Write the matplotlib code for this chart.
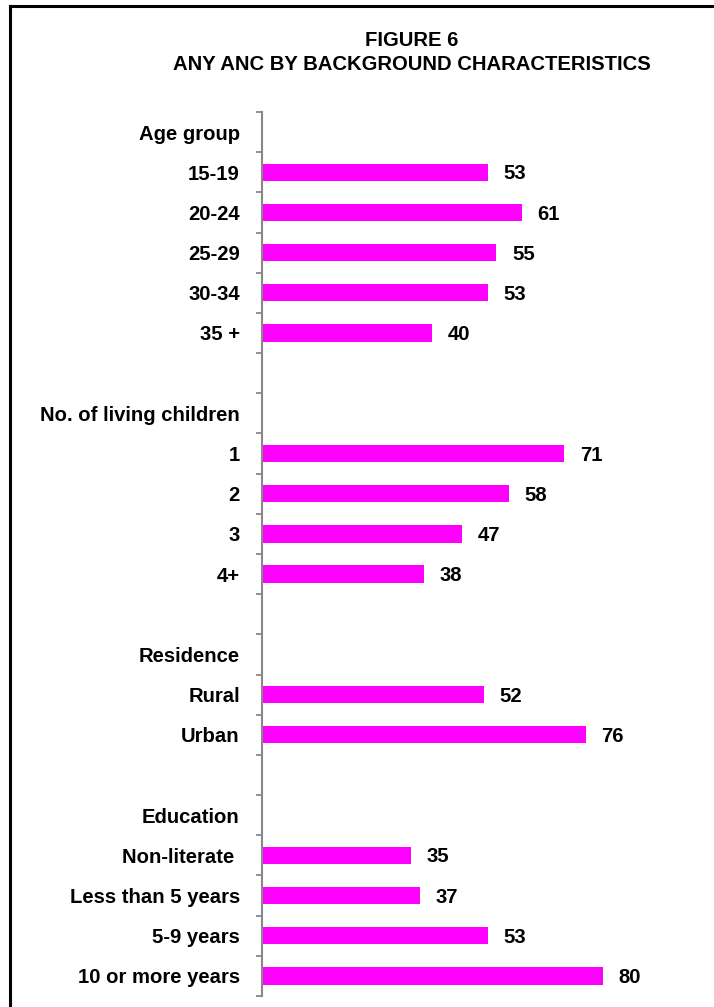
import matplotlib
matplotlib.use("Agg")
import matplotlib.pyplot as plt
from matplotlib.lines import Line2D

categories = ["Age group", "15-19", "20-24", "25-29", "30-34", "35 +", "",
              "No. of living children", "1", "2", "3", "4+", "",
              "Residence", "Rural", "Urban", "",
              "Education", "Non-literate ", "Less than 5 years", "5-9 years", "10 or more years"]
values = [None, 53, 61, 55, 53, 40, None,
          None, 71, 58, 47, 38, None,
          None, 52, 76, None,
          None, 35, 37, 53, 80]

plt.rcParams['font.family'] = ['Liberation Sans', 'DejaVu Sans']
W, H = 714, 1007
fig = plt.figure(figsize=(W / 100, H / 100), dpi=100)
ax = fig.add_axes([262 / W, 11 / H, (688 - 262) / W, (996 - 112) / H])

FS = 14.6
n = len(categories)
ypos = list(range(n))
for y, v in zip(ypos, values):
    if v is None:
        continue
    ax.barh(y, v, height=0.43, color="#FF00FF", edgecolor="none")
    ax.text(v + 3.7, y + 0.04, f"{v}", va="center", ha="left", fontsize=FS, fontweight="bold")

ax.set_ylim(n - 0.5, -0.5)
ax.set_xlim(0, 100)
ax.set_yticks(ypos)
ax.set_yticklabels(categories, fontsize=FS, fontweight="bold")
ax.set_yticks([i - 0.5 for i in range(n + 1)], minor=True)
ax.tick_params(axis="y", which="major", length=0, pad=16)
ax.tick_params(axis="y", which="minor", length=4, width=1.3, color="#888888")
ax.set_xticks([])
for s in ["top", "right", "bottom"]:
    ax.spines[s].set_visible(False)
ax.spines["left"].set_color("#888888")
ax.spines["left"].set_linewidth(1.5)

fig.text(412 / W, 1 - 41 / H, "FIGURE 6", ha="center", va="center", fontsize=FS, fontweight="bold")
fig.text(412 / W, 1 - 65 / H, "ANY ANC BY BACKGROUND CHARACTERISTICS", ha="center", va="center",
         fontsize=FS, fontweight="bold")

# frame (top and left edges visible)
fig.add_artist(Line2D([9.5 / W, 1.0], [1 - 6 / H, 1 - 6 / H], transform=fig.transFigure, color="black", lw=2.2))
fig.add_artist(Line2D([9.5 / W, 9.5 / W], [0, 1 - 6 / H], transform=fig.transFigure, color="black", lw=2.2))

fig.savefig("out.png", dpi=100)
